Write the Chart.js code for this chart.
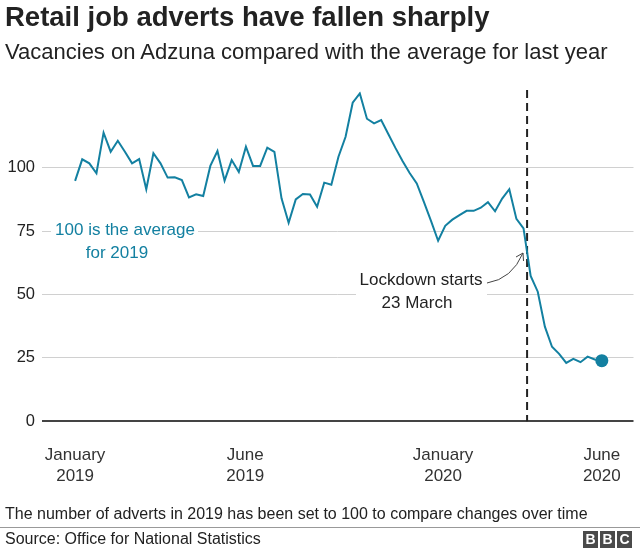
<!DOCTYPE html>
<html lang="en">
  <head>
    <meta charset="UTF-8" />
    <title>Retail job adverts have fallen sharply</title>
    <script src="https://cdn.jsdelivr.net/npm/chart.js"></script>
    <style>
      body {
        margin: 0;
        font-family: "Liberation Sans", Arial, sans-serif;
        color: #222;
      }
      .wrap {
        position: relative;
        width: 640px;
        height: 549px;
        overflow: hidden;
      }
      canvas {
        position: absolute;
        left: 0;
        top: 0;
      }
      .title {
        position: absolute;
        left: 5px;
        top: 1px;
        font-size: 27.5px;
        font-weight: bold;
        white-space: nowrap;
      }
      .subtitle {
        position: absolute;
        left: 5px;
        top: 39px;
        font-size: 22px;
        white-space: nowrap;
      }
      .note {
        position: absolute;
        left: 5px;
        top: 505px;
        font-size: 16px;
        white-space: nowrap;
      }
      .rule {
        position: absolute;
        left: 0;
        top: 527px;
        width: 640px;
        height: 1px;
        background: #999;
      }
      .source {
        position: absolute;
        left: 5px;
        top: 530px;
        font-size: 16px;
        white-space: nowrap;
      }
      .bbc {
        position: absolute;
        right: 8px;
        top: 531px;
        display: flex;
        gap: 2px;
      }
      .bbc span {
        display: block;
        width: 15px;
        height: 17px;
        background: #4a4a4a;
        color: #fff;
        font-weight: bold;
        font-size: 14px;
        line-height: 17px;
        text-align: center;
      }
    </style>
  </head>
  <body>
    <div class="wrap">
      <canvas id="chart" width="640" height="549"></canvas>
      <div class="title">Retail job adverts have fallen sharply</div>
      <div class="subtitle">Vacancies on Adzuna compared with the average for last year</div>
      <div class="note">The number of adverts in 2019 has been set to 100 to compare changes over time</div>
      <div class="rule"></div>
      <div class="source">Source: Office for National Statistics</div>
      <div class="bbc"><span>B</span><span>B</span><span>C</span></div>
    </div>

    <script>
      // weekly index values, Jan 2019 - early June 2020 (2019 average = 100)
      const values = [
        94.8, 103.3, 101.7, 97.8, 113.8, 106.3, 110.6, 106.3, 101.7, 103.4,
        91.5, 105.7, 101.7, 96.1, 96.2, 95.1, 88.3, 89.5, 88.8, 100.7,
        106.6, 94.9, 103.0, 98.3, 108.3, 100.7, 100.7, 107.9, 106.2, 87.9,
        78.3, 87.5, 89.6, 89.4, 84.6, 94.1, 93.3, 104.3, 112.2, 125.6,
        129.3, 119.3, 117.5, 118.8, 113.3, 107.8, 102.6, 97.9, 93.8, 86.5,
        79.0, 71.2, 77.1, 79.5, 81.3, 83.0, 83.0, 84.2, 86.4, 82.8,
        87.8, 91.5, 79.8, 76.1, 57.3, 51.1, 37.3, 29.4, 26.6, 23.0,
        24.6, 23.3, 25.5, 24.4, 23.9,
      ];

      // x positions are in weeks from the first point
      const tickWeeks = [0, 23.9, 51.7, 74];
      const tickLabels = [
        ["January", "2019"],
        ["June", "2019"],
        ["January", "2020"],
        ["June", "2020"],
      ];
      const yTicks = [0, 25, 50, 75, 100];
      const lockdownWeek = 63.5;

      const teal = "#1380a1";
      const font = "'Liberation Sans', Arial, sans-serif";

      const points = values.map((v, i) => ({ x: i, y: v }));

      const annotations = {
        id: "annotations",
        beforeDatasetsDraw(chart) {
          const ctx = chart.ctx;
          const x = chart.scales.x;
          const y = chart.scales.y;
          ctx.save();

          // white boxes behind labels
          ctx.fillStyle = "#fff";
          ctx.fillRect(51, 216, 147, 50);
          ctx.fillRect(356, 266, 131, 50);

          ctx.textAlign = "center";
          ctx.textBaseline = "middle";
          ctx.font = "17px " + font;
          ctx.fillStyle = teal;
          ctx.fillText("100 is the average", 125, 230);
          ctx.fillText("for 2019", 117, 253);

          ctx.fillStyle = "#222";
          ctx.fillText("Lockdown starts", 421, 280);
          ctx.fillText("23 March", 417, 303);

          // arrow
          ctx.strokeStyle = "#444";
          ctx.lineWidth = 1;
          ctx.beginPath();
          ctx.moveTo(487, 283);
          ctx.quadraticCurveTo(512, 279, 523, 253);
          ctx.stroke();
          ctx.beginPath();
          ctx.moveTo(516, 257);
          ctx.lineTo(523, 253);
          ctx.lineTo(523.5, 261);
          ctx.stroke();

          // lockdown line
          const lx = x.getPixelForValue(lockdownWeek);
          ctx.strokeStyle = "#222";
          ctx.lineWidth = 2;
          ctx.setLineDash([8, 5]);
          ctx.beginPath();
          ctx.moveTo(lx, 90);
          ctx.lineTo(lx, y.getPixelForValue(0));
          ctx.stroke();
          ctx.restore();
        },
      };

      new Chart(document.getElementById("chart"), {
        type: "line",
        data: {
          datasets: [
            {
              data: points,
              borderColor: teal,
              borderWidth: 2,
              backgroundColor: teal,
              pointRadius: (c) => (c.dataIndex === values.length - 1 ? 6.5 : 0),
              pointBorderWidth: 0,
              tension: 0,
            },
          ],
        },
        options: {
          responsive: false,
          animation: false,
          layout: { padding: { top: 91.6, right: 5, left: 0, bottom: 67.7 } },
          plugins: { legend: { display: false }, tooltip: { enabled: false } },
          scales: {
            x: {
              type: "linear",
              min: -4.65,
              max: 78.45,
              afterFit: (s) => {
                s.height = 60;
                s.paddingRight = 0;
                s.paddingLeft = 0;
              },
              afterBuildTicks: (s) => {
                s.ticks = tickWeeks.map((v) => ({ value: v }));
              },
              grid: { display: false, drawTicks: false },
              border: { display: false },
              ticks: {
                autoSkip: false,
                maxRotation: 0,
                padding: 24,
                color: "#333",
                font: { family: font, size: 17 },
                callback: (v) => tickLabels[tickWeeks.indexOf(v)],
              },
            },
            y: {
              min: 0,
              max: 130,
              afterFit: (s) => {
                s.width = 42;
              },
              afterBuildTicks: (s) => {
                s.ticks = yTicks.map((v) => ({ value: v }));
              },
              grid: {
                drawTicks: false,
                color: (c) => (c.tick && c.tick.value === 0 ? "#444" : "#d0d0d0"),
                lineWidth: (c) => (c.tick && c.tick.value === 0 ? 2 : 1),
              },
              border: { display: false },
              ticks: {
                padding: 7,
                color: "#222",
                font: { family: font, size: 16.5 },
              },
            },
          },
        },
        plugins: [annotations],
      });
    </script>
  </body>
</html>
